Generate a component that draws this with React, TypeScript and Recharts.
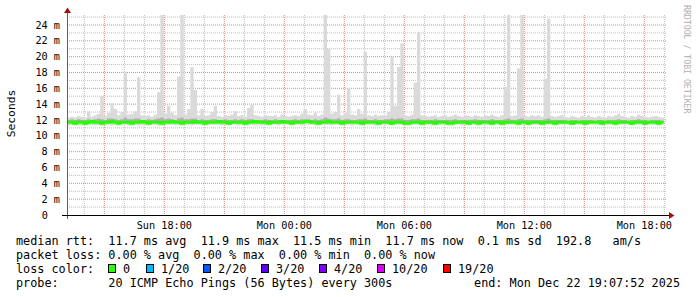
import { ComposedChart, Area, Line, XAxis, YAxis, CartesianGrid } from 'recharts';

// time axis in hours since Sun 00:00, one sample every 10 minutes
const startHour = 13 + 8 / 60;
const stepHours = 1 / 6;
const endHour = startHour + 30;

// highest of the 20 pings per step (ms)
const rttMax = [
  12.3, 12.4, 12.3, 12.5, 12.4, 12.3, 13.1, 12.4, 12.6, 12.8, 15.0, 12.5, 12.9, 14.1, 13.4, 12.6, 13.0, 18.1, 12.7, 12.8,
  13.1, 17.4, 12.6, 12.5, 12.6, 12.4, 12.7, 15.5, 25.3, 12.8, 13.8, 12.9, 12.6, 17.5, 25.3, 12.7, 13.4, 18.7, 15.8, 12.6,
  13.4, 12.5, 12.6, 13.0, 13.8, 12.5, 12.4, 12.6, 12.5, 12.7, 13.1, 12.5, 12.6, 12.4, 13.5, 13.9, 12.6, 12.5, 12.4, 12.6,
  12.5, 12.5, 12.6, 12.4, 12.7, 12.5, 12.4, 12.5, 12.6, 12.5, 12.8, 13.4, 12.7, 12.6, 12.9, 12.5, 12.7, 25.3, 21.0, 12.8,
  13.0, 15.2, 12.6, 12.9, 16.0, 12.7, 12.6, 13.4, 12.8, 20.6, 12.6, 12.5, 12.7, 12.5, 12.6, 12.6, 13.0, 20.0, 13.8, 18.7,
  21.7, 12.6, 12.5, 12.7, 16.7, 23.1, 12.6, 12.5, 12.4, 12.5, 12.6, 12.4, 12.5, 12.6, 12.4, 12.5, 12.7, 12.5, 12.4, 12.6,
  12.5, 12.4, 12.6, 12.5, 12.4, 12.6, 12.5, 12.7, 12.5, 12.4, 12.6, 16.2, 25.3, 12.5, 12.6, 18.5, 25.3, 12.5, 12.4, 12.6,
  12.5, 12.6, 12.4, 17.2, 24.8, 12.5, 12.4, 12.5, 12.6, 12.4, 12.3, 12.5, 12.4, 12.3, 12.5, 12.4, 12.6, 12.4, 12.3, 12.5,
  12.4, 12.3, 12.5, 12.4, 12.6, 12.8, 12.5, 12.4, 12.3, 12.5, 12.4, 12.7, 12.5, 12.4, 12.3, 12.4, 12.5, 12.4, 12.3, 12.4,
];

// lowest ping per step (ms)
const rttMin = [
  11.3, 11.4, 11.3, 11.4, 11.4, 11.3, 11.4, 11.4, 11.3, 11.4, 11.3, 11.4, 11.4, 11.3, 11.4, 11.3, 11.4, 11.4, 11.3, 11.3,
  11.4, 11.3, 11.4, 11.4, 11.3, 11.4, 11.4, 11.3, 11.3, 11.4, 11.4, 11.4, 11.3, 11.4, 11.3, 11.4, 11.4, 11.3, 11.4, 11.4,
  11.3, 11.3, 11.4, 11.4, 11.4, 11.4, 11.3, 11.4, 11.3, 11.4, 11.4, 11.3, 11.4, 11.4, 11.3, 11.4, 11.4, 11.4, 11.3, 11.4,
  11.3, 11.4, 11.4, 11.3, 11.4, 11.4, 11.4, 11.3, 11.4, 11.4, 11.3, 11.4, 11.4, 11.4, 11.3, 11.3, 11.4, 11.4, 11.4, 11.3,
  11.4, 11.4, 11.3, 11.4, 11.4, 11.3, 11.4, 11.4, 11.3, 11.4, 11.4, 11.4, 11.3, 11.3, 11.4, 11.4, 11.4, 11.3, 11.4, 11.4,
  11.4, 11.3, 11.3, 11.4, 11.4, 11.4, 11.3, 11.4, 11.4, 11.3, 11.3, 11.4, 11.4, 11.4, 11.3, 11.3, 11.4, 11.4, 11.3, 11.4,
  11.3, 11.4, 11.4, 11.3, 11.4, 11.4, 11.4, 11.3, 11.4, 11.4, 11.3, 11.4, 11.4, 11.4, 11.4, 11.3, 11.4, 11.4, 11.3, 11.4,
  11.4, 11.4, 11.3, 11.4, 11.4, 11.4, 11.3, 11.4, 11.4, 11.4, 11.4, 11.3, 11.4, 11.4, 11.4, 11.3, 11.4, 11.4, 11.4, 11.4,
  11.3, 11.4, 11.4, 11.4, 11.3, 11.4, 11.4, 11.4, 11.4, 11.3, 11.4, 11.4, 11.4, 11.3, 11.4, 11.4, 11.4, 11.3, 11.4, 11.4,
];

// upper edge of the dense smoke (ms)
const rttQ3 = [
  12.0, 12.1, 12.0, 12.1, 12.0, 12.0, 12.1, 12.0, 12.1, 12.2, 12.1, 12.0, 12.2, 12.2, 12.1, 12.0, 12.1, 12.3, 12.1, 12.1,
  12.2, 12.2, 12.0, 12.0, 12.1, 12.0, 12.1, 12.2, 12.3, 12.1, 12.2, 12.1, 12.0, 12.2, 12.3, 12.1, 12.1, 12.2, 12.2, 12.0,
  12.1, 12.0, 12.0, 12.1, 12.1, 12.0, 12.0, 12.1, 12.0, 12.0, 12.1, 12.0, 12.1, 12.0, 12.1, 12.1, 12.0, 12.0, 12.0, 12.1,
  12.0, 12.0, 12.1, 12.0, 12.0, 12.0, 12.0, 12.0, 12.1, 12.0, 12.1, 12.1, 12.1, 12.0, 12.1, 12.0, 12.1, 12.3, 12.2, 12.1,
  12.1, 12.2, 12.0, 12.1, 12.1, 12.0, 12.0, 12.1, 12.1, 12.2, 12.0, 12.0, 12.1, 12.0, 12.0, 12.1, 12.1, 12.2, 12.1, 12.2,
  12.2, 12.0, 12.0, 12.1, 12.1, 12.2, 12.0, 12.0, 12.0, 12.0, 12.1, 12.0, 12.0, 12.0, 12.0, 12.0, 12.1, 12.0, 12.0, 12.0,
  12.0, 12.0, 12.1, 12.0, 12.0, 12.0, 12.0, 12.1, 12.0, 12.0, 12.0, 12.1, 12.2, 12.0, 12.0, 12.1, 12.2, 12.0, 12.0, 12.0,
  12.0, 12.0, 12.0, 12.1, 12.2, 12.0, 12.0, 12.0, 12.0, 12.0, 11.9, 12.0, 12.0, 11.9, 12.0, 12.0, 12.0, 12.0, 11.9, 12.0,
  12.0, 11.9, 12.0, 12.0, 12.0, 12.1, 12.0, 12.0, 11.9, 12.0, 12.0, 12.1, 12.0, 12.0, 11.9, 12.0, 12.0, 12.0, 11.9, 12.0,
];

// median rtt per step (ms)
const rttMedian = [
  11.7, 11.7, 11.6, 11.7, 11.7, 11.6, 11.7, 11.8, 11.7, 11.7, 11.6, 11.7, 11.7, 11.8, 11.7, 11.6, 11.7, 11.7, 11.7, 11.6,
  11.7, 11.7, 11.8, 11.7, 11.6, 11.7, 11.7, 11.7, 11.6, 11.7, 11.7, 11.8, 11.7, 11.7, 11.6, 11.7, 11.7, 11.7, 11.8, 11.7,
  11.7, 11.6, 11.7, 11.7, 11.7, 11.8, 11.7, 11.7, 11.6, 11.7, 11.7, 11.7, 11.7, 11.6, 11.7, 11.7, 11.8, 11.7, 11.7, 11.7,
  11.6, 11.7, 11.7, 11.7, 11.8, 11.7, 11.7, 11.6, 11.7, 11.7, 11.7, 11.8, 11.8, 11.7, 11.7, 11.6, 11.7, 11.7, 11.8, 11.7,
  11.7, 11.7, 11.6, 11.7, 11.7, 11.7, 11.7, 11.7, 11.6, 11.7, 11.7, 11.7, 11.7, 11.6, 11.7, 11.7, 11.7, 11.6, 11.7, 11.7,
  11.7, 11.6, 11.6, 11.7, 11.7, 11.7, 11.6, 11.7, 11.7, 11.7, 11.6, 11.7, 11.7, 11.7, 11.6, 11.6, 11.7, 11.7, 11.7, 11.7,
  11.6, 11.7, 11.7, 11.6, 11.7, 11.7, 11.7, 11.6, 11.7, 11.7, 11.6, 11.7, 11.7, 11.7, 11.7, 11.6, 11.7, 11.7, 11.6, 11.7,
  11.7, 11.7, 11.6, 11.7, 11.7, 11.7, 11.6, 11.7, 11.7, 11.7, 11.7, 11.6, 11.7, 11.7, 11.7, 11.6, 11.7, 11.7, 11.7, 11.7,
  11.6, 11.7, 11.7, 11.7, 11.6, 11.7, 11.7, 11.7, 11.7, 11.6, 11.7, 11.7, 11.7, 11.6, 11.7, 11.7, 11.7, 11.6, 11.7, 11.7,
];

const xTicks = [18, 24, 30, 36, 42];
const xTickLabels = ['Sun 18:00', 'Mon 00:00', 'Mon 06:00', 'Mon 12:00', 'Mon 18:00'];
const yTicks = [0, 2, 4, 6, 8, 10, 12, 14, 16, 18, 20, 22, 24];
const yMajorGrid = [2, 4, 6, 8, 10, 12, 14, 16, 18, 20, 22, 24];
const yMinorGrid = [1, 3, 5, 7, 9, 11, 13, 15, 17, 19, 21, 23, 25];
const xMajorGrid = [15, 18, 21, 24, 27, 30, 33, 36, 39, 42];
const xMinorGrid = [14, 16, 17, 19, 20, 22, 23, 25, 26, 28, 29, 31, 32, 34, 35, 37, 38, 40, 41, 43];

const lossLabels = ['0', '1/20', '2/20', '3/20', '4/20', '10/20', '19/20'];
const lossSwatches = ['#26ff00', '#00b8ff', '#0059ff', '#5e00ff', '#7e00ff', '#dd00ff', '#ff0000'];
const lossBoxX = [108, 146, 203, 261, 319, 377, 443];

const rttLine = 'median rtt:  11.7 ms avg  11.9 ms max  11.5 ms min  11.7 ms now  0.1 ms sd  192.8   am/s';
const lossLine = 'packet loss: 0.00 % avg  0.00 % max  0.00 % min  0.00 % now';
const probeLine = 'probe:       20 ICMP Echo Pings (56 Bytes) every 300s';
const endLine = 'end: Mon Dec 22 19:07:52 2025';

const data = rttMedian.map((m, i) => ({
  t: startHour + i * stepHours,
  smoke: [rttMin[i], rttMax[i]],
  core: [m, rttQ3[i]],
  median: m,
}));

const mono = "'DejaVu Sans Mono', monospace";

const YTick = ({ y, payload }: any) => (
  <text x={payload.value === 0 ? 48 : 60} y={y} dy="0.35em" textAnchor="end" fontFamily={mono} fontSize={10.2} fill="#000">
    {payload.value === 0 ? '0' : `${payload.value} m`}
  </text>
);

const XTick = ({ x, y, payload }: any) => (
  <text x={x} y={y + 14} textAnchor="middle" fontFamily={mono} fontSize={10.2} fill="#000">
    {xTickLabels[xTicks.indexOf(payload.value)]}
  </text>
);

const pre = { whiteSpace: 'pre' } as const;

export default function App() {
  return (
    <div style={{ position: 'absolute', left: 0, top: 0, width: 697, height: 297, background: '#fff', overflow: 'hidden' }}>
      <ComposedChart width={697} height={297} data={data} margin={{ top: 15, right: 30, bottom: 62, left: 0 }}>
        <CartesianGrid stroke="#bdbdbd" strokeDasharray="1 1" horizontalValues={yMinorGrid} verticalValues={xMinorGrid} />
        <CartesianGrid stroke="#d98a8a" strokeDasharray="1 1" horizontalValues={yMajorGrid} verticalValues={xMajorGrid} />
        <XAxis dataKey="t" type="number" domain={[startHour, endHour]} ticks={xTicks} interval={0} tick={<XTick />} axisLine={false} tickLine={false} tickSize={0} tickMargin={0} height={20} allowDataOverflow />
        <YAxis type="number" domain={[0, 25.26]} ticks={yTicks} interval={0} tick={<YTick />} axisLine={false} tickLine={false} width={67} allowDataOverflow />
        <Area dataKey="smoke" type="stepAfter" stroke="none" fill="#dadada" fillOpacity={1} isAnimationActive={false} />
        <Area dataKey="core" type="stepAfter" stroke="none" fill="#b0b0b0" fillOpacity={1} isAnimationActive={false} />
        <Line dataKey="median" type="stepAfter" stroke="#26ff00" strokeWidth={3} dot={false} isAnimationActive={false} />
      </ComposedChart>
      <svg width={697} height={297} style={{ position: 'absolute', left: 0, top: 0, pointerEvents: 'none' }}>
        <line x1={67.5} y1={12} x2={67.5} y2={219} stroke="#606060" strokeWidth={1} />
        <line x1={62} y1={215.5} x2={670} y2={215.5} stroke="#000" strokeWidth={1} />
        <polygon points="64,13 71,13 67.5,7.5" fill="#a01010" />
        <polygon points="669,212 669,219 674.5,215.5" fill="#a01010" />
        <text transform="translate(15,113.5) rotate(-90)" textAnchor="middle" fontFamily={mono} fontSize={11.3} fill="#000">Seconds</text>
        <text transform="translate(684,5) rotate(90)" fontFamily={mono} fontSize={8.2} fill="#b0b0b0">RRDTOOL / TOBI OETIKER</text>
        <g fontFamily={mono} fontSize={11.8} fill="#000">
          <text x={16} y={245} xmlSpace="preserve" style={pre}>{rttLine}</text>
          <text x={16} y={259} xmlSpace="preserve" style={pre}>{lossLine}</text>
          <text x={16} y={273}>loss color:</text>
          {lossLabels.map((l, i) => (
            <g key={l}>
              <rect x={lossBoxX[i] + 0.5} y={264.5} width={7} height={8} fill={lossSwatches[i]} stroke="#000" strokeWidth={1} />
              <text x={lossBoxX[i] + 15} y={273}>{l}</text>
            </g>
          ))}
          <text x={16} y={287} xmlSpace="preserve" style={pre}>{probeLine}</text>
          <text x={680} y={287} textAnchor="end">{endLine}</text>
        </g>
      </svg>
    </div>
  );
}
